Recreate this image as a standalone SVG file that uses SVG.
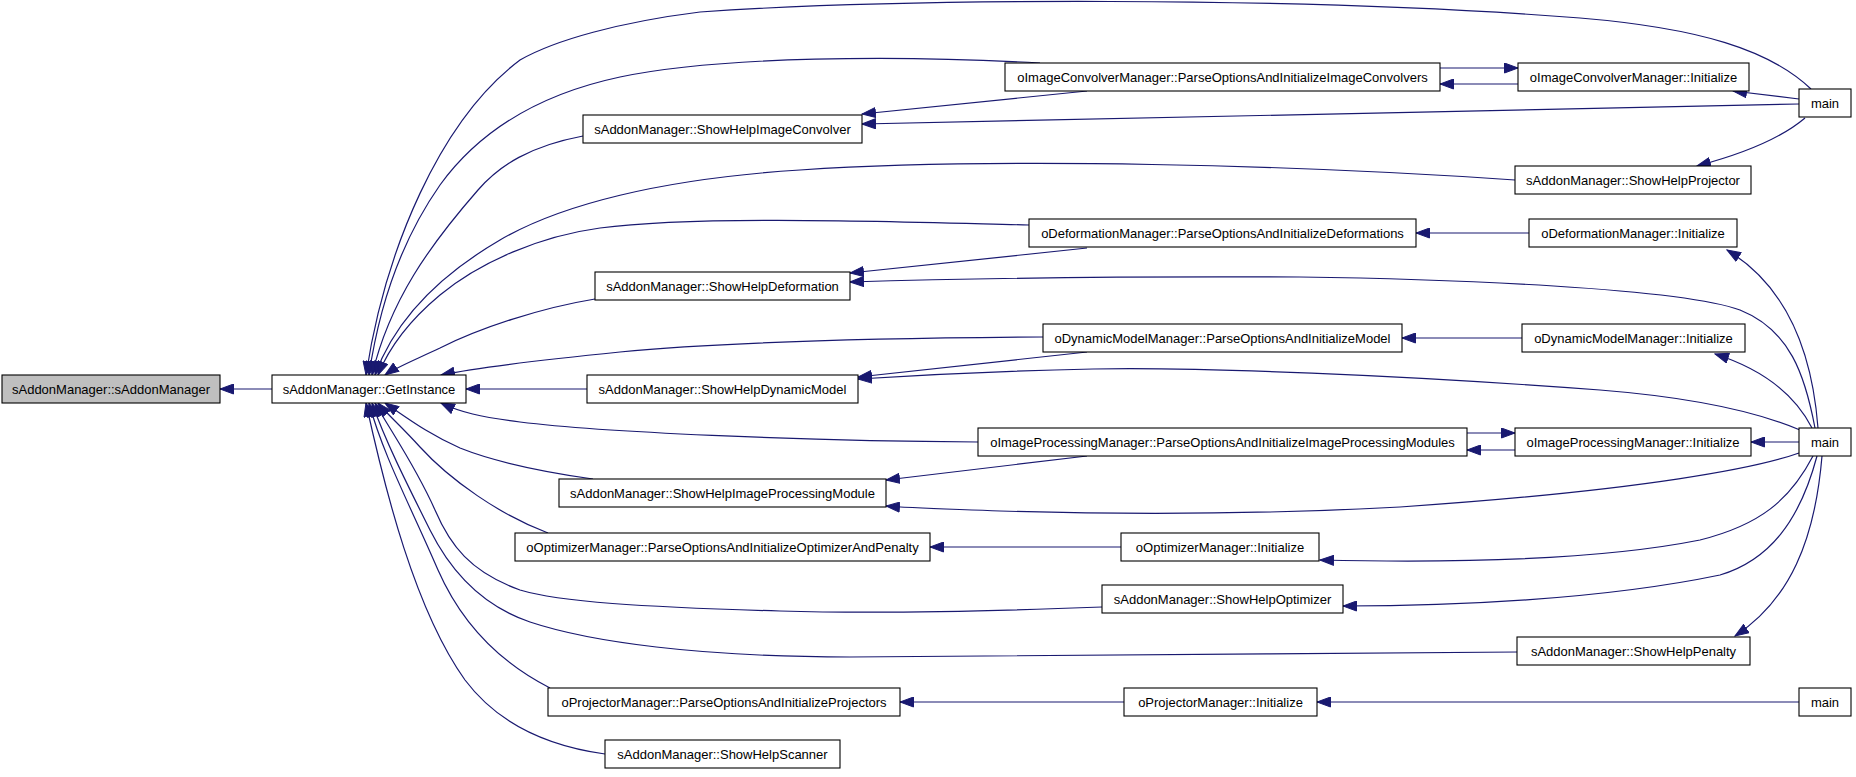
<svg xmlns="http://www.w3.org/2000/svg" width="1856" height="777" viewBox="0 0 1856 777">
<style>
.n rect{fill:#fff;stroke:#000;stroke-width:1.1}
.n.g rect{fill:#bfbfbf}
.n text{font-family:"Liberation Sans",Arial,sans-serif;font-size:13px;text-anchor:middle;fill:#000}
#edges path{fill:none;stroke:#191970;stroke-width:1.2;marker-end:url(#ah)}
</style>
<defs>
<marker id="ah" markerUnits="userSpaceOnUse" markerWidth="15" markerHeight="11" refX="14" refY="5.5" orient="auto">
<path d="M0.5,0.5 L14,5.5 L0.5,10.5 z" fill="#191970" stroke="#191970" stroke-width="1"/>
</marker>
</defs>
<rect width="1856" height="777" fill="#fff"/>
<g id="edges">
<path d="M272,389 L220,389"/>
<path d="M587,389 L466,389"/>
<path d="M1811,89 C1770,50 1700,28 1580,18 C1300,-4 900,-2 700,12 C620,22 555,40 520,60 C440,120 385,250 366,375"/>
<path d="M1040,63 C900,55 720,56 620,77 C540,94 480,130 440,185 C405,235 380,300 369,375"/>
<path d="M583,136 C530,146 500,165 478,190 C430,245 390,300 372,375"/>
<path d="M1515,180 C1300,165 1000,157 800,170 C660,179 560,205 500,240 C440,275 395,320 375,375"/>
<path d="M1029,225 C900,222 700,215 600,228 C540,236 480,262 440,295 C410,320 390,345 378,375"/>
<path d="M595,299 C540,308 480,328 440,348 C410,362 395,368 385,375"/>
<path d="M1043,337 C900,338 720,342 620,352 C540,360 480,367 441,375"/>
<path d="M978,442 C800,441 600,432 520,422 C480,417 460,412 441,403"/>
<path d="M593,479 C530,470 490,460 460,448 C430,435 410,420 385,403"/>
<path d="M548,533 C500,515 450,480 420,447 C400,425 388,415 378,403"/>
<path d="M1102,607 C1000,611 880,614 780,611 C640,607 560,602 520,590 C470,572 450,545 435,510 C415,465 390,430 375,403"/>
<path d="M1518,652 C1300,653 1000,657 850,657 C700,657 590,642 530,622 C480,605 450,570 430,530 C405,480 385,440 372,403"/>
<path d="M550,688 C495,660 460,620 438,570 C410,505 383,455 369,403"/>
<path d="M605,754 C540,745 495,720 465,680 C415,610 385,490 366,403"/>
<path d="M1087,91 L862,114"/>
<path d="M1799,104 L862,124"/>
<path d="M1440,68 L1518,68"/>
<path d="M1518,84 L1440,84"/>
<path d="M1799,99 L1733,91"/>
<path d="M1805,118 C1785,135 1750,152 1697,166"/>
<path d="M1529,233 L1416,233"/>
<path d="M1087,248 L850,273"/>
<path d="M1815,428 C1805,375 1790,330 1740,310 C1680,288 1450,279 1300,277 C1100,276 950,279 850,282"/>
<path d="M1818,428 C1812,350 1785,285 1727,250"/>
<path d="M1522,338 L1402,338"/>
<path d="M1087,352 L858,377"/>
<path d="M1800,430 C1760,413 1700,398 1600,390 C1400,375 1200,367 1093,369 C1000,371 920,375 858,379"/>
<path d="M1812,428 C1795,395 1765,370 1715,354"/>
<path d="M1467,433 L1515,433"/>
<path d="M1515,450 L1467,450"/>
<path d="M1799,442 L1751,442"/>
<path d="M1087,456 L886,480"/>
<path d="M1799,453 C1760,467 1650,490 1400,507 C1250,515 1100,514 1000,511 C950,509 910,508 886,506"/>
<path d="M1813,456 C1790,500 1760,525 1700,540 C1600,560 1450,563 1320,560"/>
<path d="M1817,456 C1800,520 1770,560 1720,575 C1600,600 1450,606 1343,606"/>
<path d="M1822,456 C1815,540 1790,600 1735,636"/>
<path d="M1121,547 L930,547"/>
<path d="M1124,702 L900,702"/>
<path d="M1799,702 L1317,702"/>
</g>
<g id="n_sAddonManager" class="n g"><rect x="2" y="375" width="218" height="28"/><text x="111" y="393.5">sAddonManager::sAddonManager</text></g>
<g id="n_GetInstance" class="n"><rect x="272" y="375" width="194" height="28"/><text x="369" y="393.5">sAddonManager::GetInstance</text></g>
<g id="n_ShowHelpImageConvolver" class="n"><rect x="583" y="115" width="279" height="28"/><text x="722.5" y="133.5">sAddonManager::ShowHelpImageConvolver</text></g>
<g id="n_ShowHelpProjector" class="n"><rect x="1515" y="166" width="236" height="28"/><text x="1633" y="184.5">sAddonManager::ShowHelpProjector</text></g>
<g id="n_ShowHelpDeformation" class="n"><rect x="595" y="272" width="255" height="28"/><text x="722.5" y="290.5">sAddonManager::ShowHelpDeformation</text></g>
<g id="n_ShowHelpDynamicModel" class="n"><rect x="587" y="375" width="271" height="28"/><text x="722.5" y="393.5">sAddonManager::ShowHelpDynamicModel</text></g>
<g id="n_ShowHelpImageProcessingModule" class="n"><rect x="559" y="479" width="327" height="28"/><text x="722.5" y="497.5">sAddonManager::ShowHelpImageProcessingModule</text></g>
<g id="n_ShowHelpOptimizer" class="n"><rect x="1102" y="585" width="241" height="28"/><text x="1222.5" y="603.5">sAddonManager::ShowHelpOptimizer</text></g>
<g id="n_ShowHelpPenalty" class="n"><rect x="1517" y="637" width="233" height="28"/><text x="1633.5" y="655.5">sAddonManager::ShowHelpPenalty</text></g>
<g id="n_ShowHelpScanner" class="n"><rect x="605" y="740" width="235" height="28"/><text x="722.5" y="758.5">sAddonManager::ShowHelpScanner</text></g>
<g id="n_ParseConvolvers" class="n"><rect x="1005" y="63" width="435" height="28"/><text x="1222.5" y="81.5">oImageConvolverManager::ParseOptionsAndInitializeImageConvolvers</text></g>
<g id="n_ParseDeformations" class="n"><rect x="1029" y="219" width="387" height="28"/><text x="1222.5" y="237.5">oDeformationManager::ParseOptionsAndInitializeDeformations</text></g>
<g id="n_ParseModel" class="n"><rect x="1043" y="324" width="359" height="28"/><text x="1222.5" y="342.5">oDynamicModelManager::ParseOptionsAndInitializeModel</text></g>
<g id="n_ParseIPM" class="n"><rect x="978" y="428" width="489" height="28"/><text x="1222.5" y="446.5">oImageProcessingManager::ParseOptionsAndInitializeImageProcessingModules</text></g>
<g id="n_ParseOptimizer" class="n"><rect x="515" y="533" width="415" height="28"/><text x="722.5" y="551.5">oOptimizerManager::ParseOptionsAndInitializeOptimizerAndPenalty</text></g>
<g id="n_ParseProjectors" class="n"><rect x="548" y="688" width="352" height="28"/><text x="724" y="706.5">oProjectorManager::ParseOptionsAndInitializeProjectors</text></g>
<g id="n_ConvInit" class="n"><rect x="1518" y="63" width="231" height="28"/><text x="1633.5" y="81.5">oImageConvolverManager::Initialize</text></g>
<g id="n_DefInit" class="n"><rect x="1529" y="219" width="208" height="28"/><text x="1633" y="237.5">oDeformationManager::Initialize</text></g>
<g id="n_DynInit" class="n"><rect x="1522" y="324" width="223" height="28"/><text x="1633.5" y="342.5">oDynamicModelManager::Initialize</text></g>
<g id="n_IPMInit" class="n"><rect x="1515" y="428" width="236" height="28"/><text x="1633" y="446.5">oImageProcessingManager::Initialize</text></g>
<g id="n_OptInit" class="n"><rect x="1121" y="533" width="198" height="28"/><text x="1220" y="551.5">oOptimizerManager::Initialize</text></g>
<g id="n_ProjInit" class="n"><rect x="1124" y="688" width="193" height="28"/><text x="1220.5" y="706.5">oProjectorManager::Initialize</text></g>
<g id="n_main1" class="n"><rect x="1799" y="89" width="52" height="28"/><text x="1825" y="107.5">main</text></g>
<g id="n_main2" class="n"><rect x="1799" y="428" width="52" height="28"/><text x="1825" y="446.5">main</text></g>
<g id="n_main3" class="n"><rect x="1799" y="688" width="52" height="28"/><text x="1825" y="706.5">main</text></g>
</svg>
